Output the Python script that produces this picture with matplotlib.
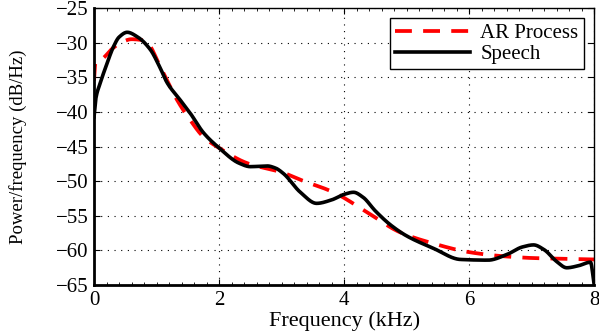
import numpy as np
import matplotlib.pyplot as plt
from matplotlib.ticker import MultipleLocator

plt.rcParams['font.family'] = ['Liberation Serif', 'DejaVu Serif']

# speech spectrum (black)
speech_f = [0.0, 0.03, 0.1, 0.2, 0.31, 0.4, 0.53, 0.7, 0.9, 1.05, 1.17, 1.38, 1.54,
            1.75, 2.0, 2.32, 2.5, 2.77, 2.9, 3.03, 3.3, 3.56, 3.8, 4.0, 4.15, 4.3,
            4.5, 4.74, 5.0, 5.43, 5.86, 6.3, 6.6, 6.85, 7.03, 7.2, 7.4, 7.56, 7.75,
            7.94, 8.0]
speech_db = [-40.7, -38.0, -35.8, -33.2, -30.6, -29.2, -28.5, -29.2, -31.0, -33.5,
             -35.8, -38.3, -40.2, -43.0, -45.2, -47.4, -47.9, -47.8, -48.1, -48.9,
             -51.6, -53.2, -52.7, -51.9, -51.6, -52.3, -54.3, -56.3, -57.9, -59.7,
             -61.3, -61.4, -60.6, -59.5, -59.2, -59.9, -61.6, -62.5, -62.2, -61.7, -65.0]

# AR model spectrum (red dashed)
ar_f = [0.0, 0.02, 0.15, 0.3, 0.45, 0.6, 0.75, 0.85, 1.06, 1.33, 1.54, 1.75, 2.0,
        2.45, 3.03, 3.3, 3.83, 4.37, 4.9, 5.43, 5.97, 6.5, 7.03, 7.5, 8.0]
ar_db = [-35.5, -33.0, -32.2, -30.8, -29.9, -29.5, -29.6, -30.0, -33.5, -38.3,
         -41.2, -43.6, -45.2, -47.4, -48.8, -49.8, -51.6, -54.5, -57.4, -59.0,
         -60.2, -60.8, -61.1, -61.2, -61.3]


def pchip(x, y, xs):
    # monotone cubic hermite, just to draw the read points as a smooth curve
    x = np.asarray(x, float)
    y = np.asarray(y, float)
    h = np.diff(x)
    d = np.diff(y) / h
    m = np.zeros_like(y)
    for k in range(1, len(y) - 1):
        if d[k - 1] * d[k] > 0:
            w1 = 2 * h[k] + h[k - 1]
            w2 = h[k] + 2 * h[k - 1]
            m[k] = (w1 + w2) / (w1 / d[k - 1] + w2 / d[k])
    m[0] = d[0]
    m[-1] = d[-1]
    i = np.clip(np.searchsorted(x, xs) - 1, 0, len(h) - 1)
    t = (xs - x[i]) / h[i]
    h00 = 2 * t**3 - 3 * t**2 + 1
    h10 = t**3 - 2 * t**2 + t
    h01 = -2 * t**3 + 3 * t**2
    h11 = t**3 - t**2
    return h00 * y[i] + h10 * h[i] * m[i] + h01 * y[i + 1] + h11 * h[i] * m[i + 1]


fig = plt.figure(figsize=(5.99, 3.35), dpi=100)
ax = fig.add_axes([0.157, 0.149, 0.835, 0.827])

fs = np.linspace(0, 8, 1601)
ax.plot(fs, pchip(ar_f, ar_db, fs), color='red', lw=2.7, ls=(0, (4.5, 3)),
        label='AR Process')
ax.plot(fs, pchip(speech_f, speech_db, fs), color='black', lw=2.6,
        label='Speech')

ax.set_xlim(0, 8)
ax.set_ylim(-65, -25)
ax.xaxis.set_major_locator(MultipleLocator(2))
ax.xaxis.set_minor_locator(MultipleLocator(0.2))
ax.yaxis.set_major_locator(MultipleLocator(5))
ax.tick_params(which='both', direction='in', top=True, right=True,
               labelsize=15, pad=4)
ax.tick_params(which='major', length=4)
ax.tick_params(which='minor', length=2)
ax.grid(True, which='major', color='black', ls=(0, (1, 5)), lw=0.8)

for s in ['left', 'bottom']:
    ax.spines[s].set_linewidth(2.0)
for s in ['top', 'right']:
    ax.spines[s].set_linewidth(1.0)

ax.set_xlabel('Frequency (kHz)', fontsize=16)
ax.set_ylabel('Power/frequency (dB/Hz)', fontsize=13.5)
ax.xaxis.set_label_coords(0.5, -0.094)
ax.yaxis.set_label_coords(-0.134, 0.5)

leg = ax.legend(loc='upper right', fontsize=15, fancybox=False, framealpha=1,
                edgecolor='black', handlelength=3.6, borderpad=0.25,
                labelspacing=0.05, borderaxespad=0.5, handletextpad=0.5)
leg.get_frame().set_linewidth(1.0)

plt.savefig('out.png', dpi=100)
